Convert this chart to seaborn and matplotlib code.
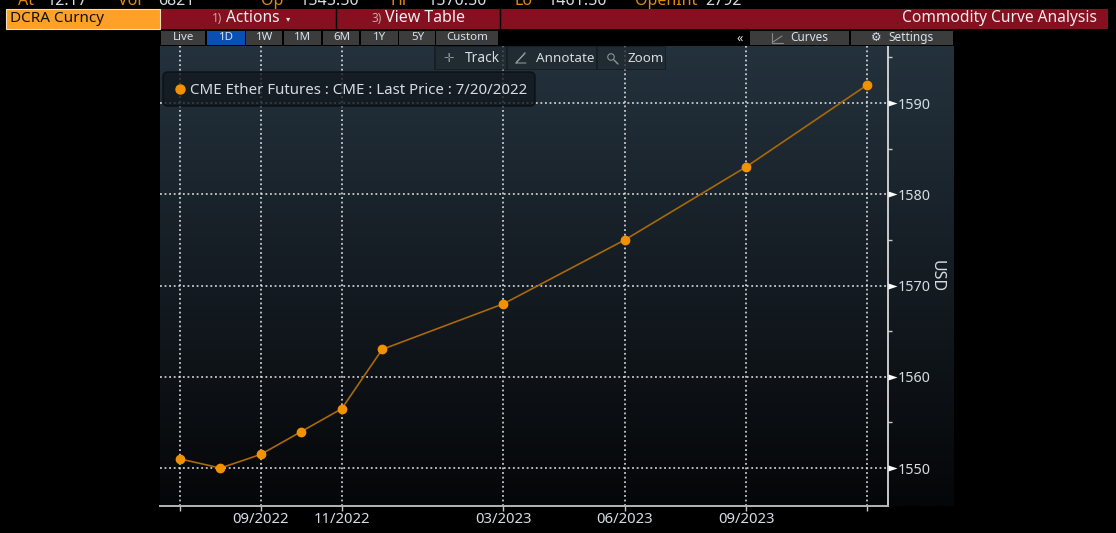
import numpy as np
import pandas as pd
import matplotlib
matplotlib.use('Agg')
import matplotlib.pyplot as plt
import seaborn as sns
from matplotlib.patches import Rectangle, FancyBboxPatch
from matplotlib.lines import Line2D

# curve data
contract_months = ['2022-07', '2022-08', '2022-09', '2022-10', '2022-11', '2022-12',
                   '2023-03', '2023-06', '2023-09', '2023-12']
last_price = [1551, 1550, 1551.5, 1554, 1556.5, 1563, 1568, 1575, 1583, 1592]
x_tick_months = ['2022-07', '2022-09', '2022-11', '2023-03', '2023-06', '2023-09', '2023-12']
x_tick_labels = ['', '09/2022', '11/2022', '03/2023', '06/2023', '09/2023', '']
y_ticks = [1550, 1560, 1570, 1580, 1590]
y_minor_ticks = [1555, 1565, 1575, 1585, 1595]
legend_label = 'CME Ether Futures : CME : Last Price : 7/20/2022'
period_buttons = ['Live', '1D', '1W', '1M', '6M', '1Y', '5Y', 'Custom']

W, H = 1116, 533
ORANGE = '#f39200'
LINE = '#a9680a'
TEXT = '#d5dde3'
RED = '#86101f'

sns.set_theme(style='dark', rc={'figure.facecolor': 'black', 'axes.facecolor': 'none'})
plt.rcParams['font.family'] = ['Noto Sans', 'DejaVu Sans']


def month_index(m):
    # spaced by calendar month, first contract = 0
    d = pd.to_datetime(m)
    first = pd.to_datetime(contract_months[0])
    return (d.year - first.year) * 12 + d.month - first.month


def px_axes(left, top, right, bottom, **kw):
    return fig.add_axes([left / W, 1 - bottom / H, (right - left) / W, (bottom - top) / H], **kw)


fig = plt.figure(figsize=(W / 100, H / 100), dpi=100)

# panel background gradient
bg = px_axes(160, 46, 954, 506)
grad = np.linspace(0, 1, 256).reshape(-1, 1)
top_c = np.array([0x24, 0x32, 0x3d]) / 255
bot_c = np.array([0x05, 0x06, 0x08]) / 255
bg.imshow((top_c + (bot_c - top_c) * grad[..., None]), aspect='auto', interpolation='bilinear')
bg.axis('off')

# the chart
df = pd.DataFrame({'month': [month_index(m) for m in contract_months], 'price': last_price})
ax = px_axes(160, 46, 888, 506)
ax.patch.set_alpha(0)
sns.lineplot(data=df, x='month', y='price', ax=ax, color=LINE, linewidth=1.2, marker='o',
             markersize=6, markerfacecolor=ORANGE, markeredgecolor=ORANGE, markeredgewidth=1, zorder=5)
ax.set_xlabel('')
ax.set_ylabel('USD', rotation=270, color=TEXT, fontsize=11.5, va='center')
ax.yaxis.set_label_position('right')
ax.yaxis.set_label_coords(1.078, 0.5)
ax.yaxis.tick_right()
ax.set_xticks([month_index(m) for m in x_tick_months], x_tick_labels)
ax.set_yticks(y_ticks, [str(v) for v in y_ticks])
ax.set_yticks(y_minor_ticks, minor=True)
ax.set_xlim(-0.495, 17.51)
ax.set_ylim(1545.84, 1596.25)
ax.grid(True, which='major', color='#e8e8e8', linestyle=(0, (1.2, 1.8)), linewidth=1.1)
ax.tick_params(axis='x', colors=TEXT, labelsize=10.7, length=3.6, width=1, color='#c8c8c8', pad=0.4, bottom=True)
ax.tick_params(axis='y', which='major', colors=TEXT, labelsize=10.3, length=0, pad=7, right=True)
ax.tick_params(axis='y', which='minor', length=3, width=1, color='#c8c8c8', right=True)
for s in ['top', 'left']:
    ax.spines[s].set_visible(False)
ax.spines['right'].set_visible(True)
ax.spines['right'].set_color('#e8e8e8')
ax.spines['right'].set_linewidth(1.2)
ax.spines['bottom'].set_visible(True)
ax.spines['bottom'].set_color('#b5b5b5')
ax.spines['bottom'].set_linewidth(1.4)
# pointer at each labelled price
pointer = [(0, -1), (0, 1), (3, 0)]
ax.plot([1.0] * len(y_ticks), y_ticks, linestyle='none', marker=pointer, color='white', markersize=13,
        markeredgewidth=0, transform=ax.get_yaxis_transform(), clip_on=False, zorder=6)

# window chrome, in pixel coordinates
ov = fig.add_axes([0, 0, 1, 1])
ov.set_xlim(0, W)
ov.set_ylim(H, 0)
ov.axis('off')
ov.patch.set_alpha(0)


def box(x0, y0, x1, y1, fc, ec='none', lw=0, z=2, alpha=None):
    ov.add_patch(Rectangle((x0, y0), x1 - x0, y1 - y0, facecolor=fc, edgecolor=ec, linewidth=lw,
                           zorder=z, alpha=alpha))


def label(x, y, s, color=TEXT, size=10, ha='left', **kw):
    ov.text(x, y, s, color=color, fontsize=size, ha=ha, va='center', zorder=5, **kw)


# status line clipped at the top edge, same as the source screenshot
for x, s, c in [(18, 'At', '#e08a10'), (47, '12:17', TEXT), (118, 'Vol', '#e08a10'), (158, '6821', TEXT),
                (261, 'Op', '#e08a10'), (300, '1545.50', TEXT), (391, 'Hi', '#e08a10'), (428, '1570.50', TEXT),
                (514, 'Lo', '#e08a10'), (548, '1461.50', TEXT), (635, 'OpenInt', '#e08a10'), (705, '2792', TEXT)]:
    label(x, 1, s, color=c, size=11.5)

# red bar
box(6, 9, 1108, 29, RED)
box(6, 9, 160, 29, '#ffa028', ec='#f0e0c0', lw=0.8)
label(10, 19, 'DCRA Curncy', color='#111111', size=11)
ov.plot([335.5, 335.5], [9, 29], color='black', lw=1, zorder=3)
ov.plot([499.5, 499.5], [9, 29], color='black', lw=1, zorder=3)
label(212, 18, '1)', color='#c8a8a8', size=8.5)
label(226, 18, 'Actions', color='#eeeeee', size=11.2)
label(286, 19, '▾', color='#dddddd', size=6)
label(371, 18, '3)', color='#c8a8a8', size=8.5)
label(385, 18, 'View Table', color='#eeeeee', size=11.5)
label(1097, 18, 'Commodity Curve Analysis', color='#eeeeee', size=11.2, ha='right')

# period buttons
btn_spans = [(161, 205), (207, 245), (246, 282), (284, 321), (323, 359), (361, 398), (399, 435), (436, 498)]
for name, (a, b) in zip(period_buttons, btn_spans):
    box(a, 31, b, 45, '#0a50b4' if name == '1D' else '#3c3c3c')
    label((a + b) / 2 + 0.5, 37.5, name, color='#d8e0e8', size=8.3, ha='center')

box(499, 30, 954, 46, 'black')
label(740, 38, '«', color='#e0e0e0', size=9, ha='center')
box(750, 31, 849, 45, '#3c3c3c')
box(851, 31, 953, 45, '#3c3c3c')
label(790, 37.5, 'Curves', color='#d8e0e8', size=8.5)
label(888, 37.5, 'Settings', color='#d8e0e8', size=8.5)
label(876, 37.5, '⚙', color='#d8e0e8', size=8.5, ha='center')
ov.plot([772, 772, 783], [33, 43, 43], color='#888888', lw=0.8, zorder=5)
ov.plot([773, 782], [42, 36], color='#888888', lw=0.8, zorder=5)

# track / annotate / zoom strip, grid shows through it
box(434, 46, 666, 70, '#0d1216', alpha=0.55)
box(436, 47, 506, 69, '#2b353d', alpha=0.55)
box(508, 47, 596, 69, '#2b353d', alpha=0.55)
box(598, 47, 665, 69, '#2b353d', alpha=0.55)
label(465, 58, 'Track', size=10)
label(536, 58, 'Annotate', size=9.7)
label(627, 58, 'Zoom', size=9.7)
label(449, 58, '✛', color='#8a949c', size=9, ha='center')
ov.plot([516, 525, 516, 526], [63, 53, 63, 63], color='#8a949c', lw=0.8, zorder=5)
ov.scatter([611], [57], s=22, facecolor='none', edgecolor='#8a949c', linewidth=0.8, zorder=5)
ov.plot([614, 618], [60, 64], color='#8a949c', lw=1, zorder=5)

# legend
ov.add_patch(FancyBboxPatch((166, 75), 366, 28, boxstyle='round,pad=3,rounding_size=5',
                            facecolor='#12191f', edgecolor='#0a0e12', linewidth=1.2, zorder=4, alpha=0.8))
ov.add_line(Line2D([180], [89], marker='o', color=ORANGE, markersize=6.5, linestyle='none', zorder=5))
label(190, 90, legend_label, size=10.8)

fig.savefig('out.png', dpi=100, facecolor='black')
